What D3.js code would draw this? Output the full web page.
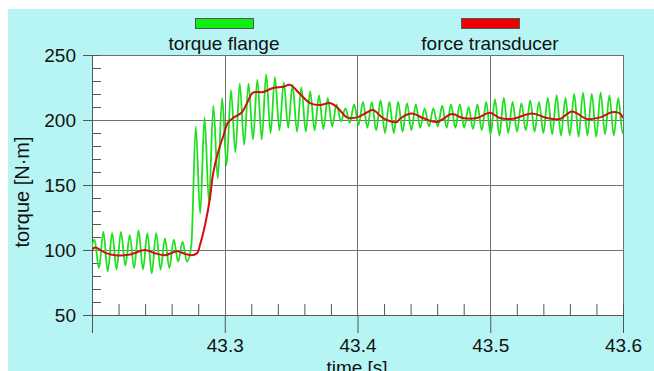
<!DOCTYPE html>
<html><head><meta charset="utf-8">
<script src="https://cdn.jsdelivr.net/npm/d3@7"></script>
<style>
html,body{margin:0;padding:0;background:#fff;}
svg{display:block;}
text{font-family:"Liberation Sans",Arial,sans-serif;fill:#111;}
</style></head>
<body>
<svg id="c" width="654" height="371"></svg>
<script>
// ---- data ----
const seriesNames = ["torque flange", "force transducer"];
const xMajorTicks = [43.3, 43.4, 43.5, 43.6];
const yMajorTicks = [50, 100, 150, 200, 250];
const xLabel = "time [s]";
const yLabel = "torque [N·m]";

// torque flange: successive extremes, uniform sample spacing
const flangeStart = 43.1986;
const flangeStep = 0.003315;
const flangeValues = [
  96,108,86,114,83.5,113,85,114,88,111.5,86,115,85,113,82,113,85,109,86,108,
  91,106.5,91,104,195,128,202,137,211,155,217,165,223,175,228,181,228,185,231,185,
  235,190,233,192,229,194,227,191,225,191,222,192,219,193,217,195,212,199,209,198,
  212,196,214,194,214,192,215,190,214,190,214,191,213,192,212,194,209,195,209,195,
  211,194,212,194,212,194,210,193,212,192,214,189,216,188,217,190,214,191,213,192,
  215,191,214,190,217,189,219,188,217,188,220,187,221,188,220,187,221,189,219,188,
  217,190,212
];

// force transducer
const forceTime = [
  43.2000,43.2023,43.2098,43.2173,43.2286,43.2399,43.2475,43.2550,43.2640,43.2701,
  43.2753,43.2791,43.2814,43.2851,43.2889,43.2911,43.2949,43.2987,43.3024,43.3062,
  43.3130,43.3168,43.3213,43.3288,43.3363,43.3439,43.3492,43.3567,43.3642,43.3718,
  43.3793,43.3853,43.3921,43.3996,43.4056,43.4117,43.4192,43.4298,43.4320,43.4411,
  43.4493,43.4599,43.4712,43.4795,43.4900,43.4998,43.5073,43.5171,43.5314,43.5427,
  43.5525,43.5616,43.5729,43.5827,43.5917,43.5977,43.6000
];
const forceValues = [
  100,102,98,96,96.5,100,97.5,96,99,97,
  96,97.5,104,119,140,158,175,187,198,201.5,
  206,213,221,221.5,224.6,225.5,227,220,213,211.5,
  213,209,202,202,205,207.7,201.5,198.5,201,205,
  201.5,198.5,204.6,201.5,201.5,205.5,201.5,201,205,201.5,
  200.8,206.5,200.8,202,206,205,201.5
];

// ---- drawing ----
const svg = d3.select("#c");
const W = 654, H = 371;
const L = 92, R = 623, T = 55, B = 315;

svg.append("rect").attr("x", 8).attr("y", 9).attr("width", W - 8).attr("height", H - 9).attr("fill", "#b7f5f5");

const x = d3.scaleLinear().domain([43.2, 43.6]).range([L, R]);
const y = d3.scaleLinear().domain([50, 250]).range([B, T]);

svg.append("rect").attr("x", L).attr("y", T).attr("width", R - L).attr("height", B - T).attr("fill", "#fff");

svg.append("clipPath").attr("id", "clip").append("rect")
  .attr("x", L).attr("y", T).attr("width", R - L).attr("height", B - T);

const gridCol = "#707070";
// grid
svg.append("g").selectAll("line").data(yMajorTicks.filter(v => v > 50 && v < 250)).join("line")
  .attr("x1", L).attr("x2", R).attr("y1", d => Math.round(y(d)) + 0.5).attr("y2", d => Math.round(y(d)) + 0.5)
  .attr("stroke", gridCol).attr("stroke-width", 1);
svg.append("g").selectAll("line").data(xMajorTicks.filter(v => v < 43.6)).join("line")
  .attr("y1", T).attr("y2", B).attr("x1", d => Math.round(x(d)) + 0.5).attr("x2", d => Math.round(x(d)) + 0.5)
  .attr("stroke", gridCol).attr("stroke-width", 1);

// frame
svg.append("rect").attr("x", L + 0.5).attr("y", T + 0.5).attr("width", R - L).attr("height", B - T)
  .attr("fill", "none").attr("stroke", gridCol);

// minor ticks
const yMinor = d3.range(60, 250, 10).filter(v => v % 50 !== 0);
const xMinor = d3.range(43.22, 43.6, 0.02).filter(v => Math.abs(v * 10 - Math.round(v * 10)) > 1e-6);

const fs = 19;
const yAxisMajor = svg.append("g").attr("transform", `translate(${L},0)`)
  .call(d3.axisLeft(y).tickValues(yMajorTicks).tickSize(9).tickPadding(7).tickFormat(d3.format("d")));
const yAxisMinor = svg.append("g").attr("transform", `translate(${L},0)`)
  .call(d3.axisRight(y).tickValues(yMinor).tickSize(9).tickFormat(""));
const xAxisMajor = svg.append("g").attr("transform", `translate(0,${B})`)
  .call(d3.axisBottom(x).tickValues(xMajorTicks).tickSize(18).tickPadding(6).tickFormat(d3.format(".1f")));
const xAxisMinor = svg.append("g").attr("transform", `translate(0,${B})`)
  .call(d3.axisTop(x).tickValues(xMinor).tickSize(11).tickFormat(""));

[yAxisMajor, yAxisMinor, xAxisMajor, xAxisMinor].forEach(g => {
  g.select(".domain").attr("stroke", "#555");
  g.selectAll(".tick line").attr("stroke", "#555");
  g.selectAll("text").attr("font-size", fs).attr("font-family", '"Liberation Sans",Arial,sans-serif').attr("fill", "#111");
});

// axis titles
svg.append("text").attr("x", 357).attr("y", 374).attr("text-anchor", "middle").attr("font-size", fs).text(xLabel);
svg.append("text").attr("transform", "translate(29,192) rotate(-90)").attr("text-anchor", "middle")
  .attr("font-size", 20).text(yLabel);

// series
const flange = flangeValues.map((v, i) => ({ t: flangeStart + i * flangeStep, v }));
const force = forceTime.map((t, i) => ({ t, v: forceValues[i] }));

const plot = svg.append("g").attr("clip-path", "url(#clip)");
plot.append("path").datum(flange)
  .attr("d", d3.line().x(d => x(d.t)).y(d => y(d.v)).curve(d3.curveMonotoneX))
  .attr("fill", "none").attr("stroke", "#1fe01f").attr("stroke-width", 1.8).attr("stroke-linejoin", "round");
plot.append("path").datum(force)
  .attr("d", d3.line().x(d => x(d.t)).y(d => y(d.v)).curve(d3.curveCatmullRom.alpha(0.5)))
  .attr("fill", "none").attr("stroke", "#d01010").attr("stroke-width", 2).attr("stroke-linejoin", "round");

// legend
const legendX = [224, 490];
const legendCol = ["#11ee11", "#ee0000"];
seriesNames.forEach((n, i) => {
  svg.append("rect").attr("x", legendX[i] - 29 + 0.5).attr("y", 18.5).attr("width", 58).attr("height", 10)
    .attr("fill", legendCol[i]).attr("stroke", "#555").attr("stroke-width", 1);
  svg.append("text").attr("x", legendX[i]).attr("y", 50).attr("text-anchor", "middle").attr("font-size", fs).text(n);
});
</script>
</body></html>
